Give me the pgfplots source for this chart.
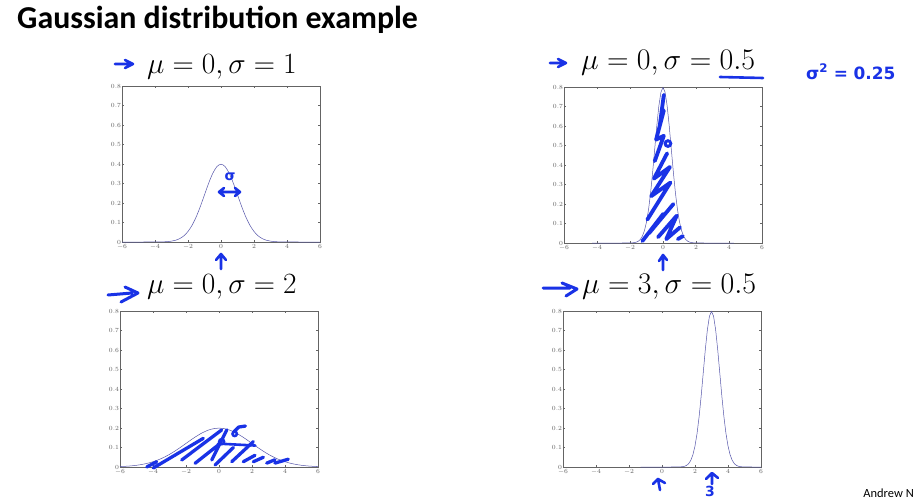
\documentclass[border=0pt]{standalone}
\usepackage{fix-cm}
\usepackage{pgfplots}
\pgfplotsset{compat=1.18}
\usepackage{fontspec}
\newfontfamily\carlito{Carlito}
\newfontfamily\dejavu{DejaVu Sans}
\definecolor{ink}{RGB}{25,50,230}
\definecolor{curve}{RGB}{85,85,170}
\definecolor{axgray}{RGB}{100,100,100}
\pgfplotsset{gauss/.style={width=198bp,height=156bp,scale only axis,
  xmin=-6,xmax=6,ymin=0,ymax=0.8,
  xtick={-6,-4,-2,0,2,4,6}, ytick={0,0.1,0.2,0.3,0.4,0.5,0.6,0.7,0.8},
  axis line style={axgray,line width=0.4bp},
  tick style={axgray,line width=0.3bp}, major tick length=2bp,
  tick label style={font=\fontsize{6.3}{7}\selectfont,text=axgray,inner sep=0.8pt},
  xticklabel style={yshift=-1.5bp},
  clip=false, anchor=south west}}
\tikzset{hatch/.style={ink,line width=3.8bp,line cap=round,line join=round}}
\begin{document}
\begin{tikzpicture}
\path[fill=white] (0,0) rectangle (917bp,-501bp);
\useasboundingbox (0,0) rectangle (917bp,-501bp);
% ---- plot 1: mu=0, sigma=1
\begin{axis}[gauss, at={(122bp,-242bp)}]
\addplot[curve, line width=0.5bp, smooth] coordinates {
(-6,0) (-5,0.0000015) (-4,0.00013) (-3.5,0.00087) (-3.25,0.00203) (-3,0.00443)
(-2.75,0.00909) (-2.5,0.01753) (-2.25,0.03174) (-2,0.05399) (-1.75,0.08628)
(-1.5,0.12952) (-1.25,0.18265) (-1,0.24197) (-0.75,0.30114) (-0.5,0.35207)
(-0.25,0.38667) (0,0.39894) (0.25,0.38667) (0.5,0.35207) (0.75,0.30114)
(1,0.24197) (1.25,0.18265) (1.5,0.12952) (1.75,0.08628) (2,0.05399)
(2.25,0.03174) (2.5,0.01753) (2.75,0.00909) (3,0.00443) (3.25,0.00203)
(3.5,0.00087) (4,0.00013) (5,0.0000015) (6,0)};
\end{axis}
% ---- plot 2: mu=0, sigma=0.5
\begin{axis}[gauss, at={(564bp,-243bp)}]
\addplot[curve, line width=0.5bp] coordinates {
(-4.3,0) (-2.5,0.000003) (-2,0.00027) (-1.75,0.00175) (-1.625,0.00406)
(-1.5,0.00886) (-1.375,0.01819) (-1.25,0.03506) (-1.125,0.06348) (-1,0.10798)
(-0.875,0.17256) (-0.75,0.25904) (-0.625,0.36530) (-0.5,0.48394) (-0.375,0.60227)
(-0.25,0.70413) (-0.125,0.77334) (0,0.79788) (0.125,0.77334) (0.25,0.70413)
(0.375,0.60227) (0.5,0.48394) (0.625,0.36530) (0.75,0.25904) (0.875,0.17256)
(1,0.10798) (1.125,0.06348) (1.25,0.03506) (1.375,0.01819) (1.5,0.00886)
(1.625,0.00406) (1.75,0.00175) (2,0.00027) (2.5,0.000003) (4.3,0)};
\draw[hatch] (-1.25,0.01)--(0.02,0.15)--(-0.85,0.05)--(0.63,0.2)
  (-0.3,0.03)--(0.83,0.14)--(0.2,0.02)--(1.03,0.08) (0.9,0.02)--(1.2,0.035)
  (-0.95,0.12)--(0.45,0.31)--(-0.72,0.24)--(0.42,0.39)--(-0.55,0.33)--(0.25,0.46)
  (-0.5,0.42)--(0.05,0.55)--(-0.42,0.53)--(0.05,0.68)--(-0.2,0.6)--(0.05,0.76);
\draw[ink, line width=3bp] (0.3,0.51) circle[radius=2.8bp];
\end{axis}
% ---- plot 3: mu=0, sigma=2
\begin{axis}[gauss, at={(120bp,-467bp)}]
\addplot[curve, line width=0.5bp, smooth] coordinates {
(-6,0.00222) (-5.5,0.00455) (-5,0.00876) (-4.5,0.01587) (-4,0.02700)
(-3.5,0.04314) (-3,0.06476) (-2.5,0.09132) (-2,0.12099) (-1.5,0.15057)
(-1,0.17603) (-0.5,0.19333) (0,0.19947) (0.5,0.19333) (1,0.17603)
(1.5,0.15057) (2,0.12099) (2.5,0.09132) (3,0.06476) (3.5,0.04314)
(4,0.02700) (4.5,0.01587) (5,0.00876) (5.5,0.00455) (6,0.00222)};
\draw[hatch, line width=3.3bp] (-4.38,0.0)--(-3.78,0.027) (-3.98,-0.005)--(-0.95,0.147)
  (-2.26,0.036)--(0.16,0.19) (-1.45,0.019)--(0.06,0.12)
  (-0.44,0.036)--(0.47,0.19) (-0.24,0.01)--(0.87,0.10)
  (0.77,0.027)--(2.08,0.13) (0.9,0.18)--(1.2,0.205)--(1.6,0.21)
  (1.47,0.027)--(2.18,0.06) (2.08,0.027)--(2.69,0.05)
  (2.89,0.02)--(3.39,0.037) (3.39,0.02)--(4.2,0.04);
\draw[ink, line width=2.5bp] (0.16,0.13) circle[radius=2.5bp] (0.95,0.17) circle[radius=2.2bp];
\draw[ink, line width=2.6bp, line cap=round] (-0.06,0.12)--(2.2,0.11);
\end{axis}
% ---- plot 4: mu=3, sigma=0.5
\begin{axis}[gauss, at={(563bp,-467bp)}]
\addplot[curve, line width=0.5bp] coordinates {
(-1.3,0) (0.5,0.000003) (1,0.00027) (1.25,0.00175) (1.375,0.00406)
(1.5,0.00886) (1.625,0.01819) (1.75,0.03506) (1.875,0.06348) (2,0.10798)
(2.125,0.17256) (2.25,0.25904) (2.375,0.36530) (2.5,0.48394) (2.625,0.60227)
(2.75,0.70413) (2.875,0.77334) (3,0.79788) (3.125,0.77334) (3.25,0.70413)
(3.375,0.60227) (3.5,0.48394) (3.625,0.36530) (3.75,0.25904) (3.875,0.17256)
(4,0.10798) (4.125,0.06348) (4.25,0.03506) (4.375,0.01819) (4.5,0.00886)
(4.625,0.00406) (4.75,0.00175) (5,0.00027) (5.5,0.000003) (6,0)};
\end{axis}
% ---- texts and hand annotations (pixel coordinates)
\begin{scope}[x=1bp,y=-1bp, line cap=round, line join=round]
\node[anchor=base west, inner sep=0, font=\carlito\bfseries\fontsize{32}{34}\selectfont] at (17,28) {Gaussian distribution example};
\node[anchor=base west, inner sep=0, font=\fontsize{29.5}{32}\selectfont] at (147,73) {$\mu = 0, \sigma = 1$};
\node[anchor=base west, inner sep=0, font=\fontsize{30}{32}\selectfont] at (581,69) {$\mu = 0, \sigma = 0.5$};
\node[anchor=base west, inner sep=0, font=\fontsize{29.5}{32}\selectfont] at (147,293) {$\mu = 0, \sigma = 2$};
\node[anchor=base west, inner sep=0, font=\fontsize{30}{32}\selectfont] at (582,293) {$\mu = 3, \sigma = 0.5$};
\node[anchor=base east, inner sep=0, font=\carlito\fontsize{12.5}{14}\selectfont] at (914,497) {Andrew N};
% arrows before titles
\draw[ink, line width=2.6bp] (115,64)--(132,64) (125,60)--(133,64)--(125,68);
\draw[ink, line width=2.6bp] (550,63)--(565,63) (558,59)--(566,63)--(558,67);
\draw[ink, line width=3bp] (108,295)--(132,293) (125,287)--(138,293)--(121,302);
\draw[ink, line width=3bp] (543,288)--(570,288) (562,283)--(577,289)--(566,296);
% underline and sigma^2
\draw[ink, line width=2.6bp] (720,77)--(763,78);
\node[anchor=base west, inner sep=0, text=ink, font=\dejavu\bfseries\fontsize{17}{18}\selectfont] at (806,79) {σ\textsuperscript{2}\,\,=\,\,0.25};
% plot 1 sigma and double arrow
\node[text=ink, inner sep=0, font=\dejavu\bfseries\fontsize{14}{15}\selectfont] at (230,177) {σ};
\draw[ink, line width=2.6bp] (219,192)--(240,192) (224,188)--(219,192)--(224,196) (235,188)--(240,192)--(235,196);
% up arrows
\draw[ink, line width=2.6bp] (221,269)--(221,255) (216,260)--(221,254)--(226,260);
\draw[ink, line width=2.6bp] (663,270)--(663,256) (659,261)--(663,255)--(667,260);
\draw[ink, line width=2.6bp] (660,490)--(658,479) (653,484)--(658,479)--(665,483);
\draw[ink, line width=2.6bp] (712,484)--(712,474) (706,479)--(712,473)--(718,478);
\node[text=ink, inner sep=0, font=\dejavu\bfseries\fontsize{14}{15}\selectfont] at (710,491) {3};
\end{scope}
\end{tikzpicture}
\end{document}
